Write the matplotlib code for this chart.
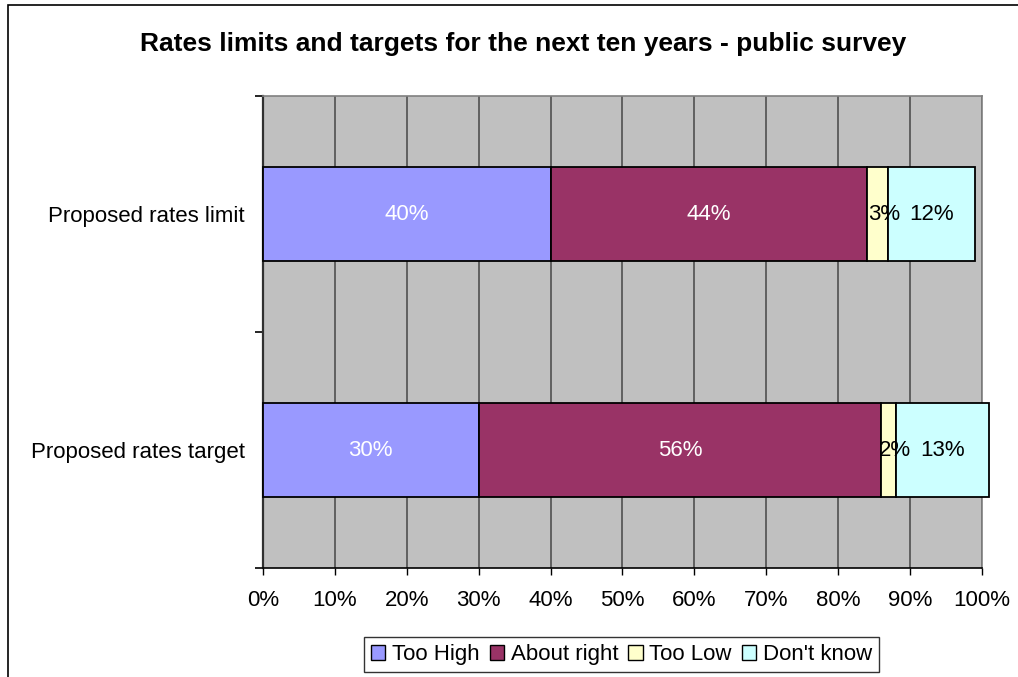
import numpy as np
import matplotlib.pyplot as plt
from matplotlib.patches import Rectangle

plt.rcParams['font.family'] = ['Liberation Sans', 'DejaVu Sans']

# survey results (percent of respondents)
questions = ["Proposed rates limit", "Proposed rates target"]
too_high = [40, 30]
about_right = [44, 56]
too_low = [3, 2]
dont_know = [12, 13]

series_names = ["Too High", "About right", "Too Low", "Don't know"]
series_colors = ["#9999FF", "#993366", "#FFFFCC", "#CCFFFF"]
label_colors = ["white", "white", "black", "black"]

fs = 16

fig = plt.figure(figsize=(10.18, 6.77), dpi=100)
ax = fig.add_axes([0.2583, 0.161, 0.7063, 0.697])
ax.set_facecolor("#C0C0C0")

y = np.arange(len(questions))
left = np.zeros(len(questions))
for vals, name, col, lcol in zip([too_high, about_right, too_low, dont_know],
                                 series_names, series_colors, label_colors):
    vals = np.array(vals, dtype=float)
    bars = ax.barh(y, vals, left=left, height=0.4, color=col,
                   edgecolor="black", linewidth=1.3, label=name, zorder=3,
                   clip_on=False)
    for b, v in zip(bars, vals):
        # narrow segments get their label nudged right a little
        dx = 5 if v < 5 else 0
        ax.annotate(f"{int(v)}%",
                    (b.get_x() + b.get_width() / 2, b.get_y() + b.get_height() / 2),
                    xytext=(dx, 0), textcoords="offset points",
                    ha="center", va="center", color=lcol, fontsize=fs,
                    zorder=4, annotation_clip=False)
    left += vals

ax.set_xlim(0, 100)
ax.set_ylim(1.5, -0.5)
ax.set_xticks(np.arange(0, 101, 10))
ax.set_xticklabels([f"{v}%" for v in range(0, 101, 10)], fontsize=fs)
ax.set_yticks(y)
ax.set_yticklabels(questions, fontsize=fs)
ax.set_yticks([-0.5, 0.5, 1.5], minor=True)
ax.tick_params(axis="y", which="major", length=0, pad=13)
ax.tick_params(axis="y", which="minor", length=6, width=1.2, color="black")
ax.tick_params(axis="x", length=5, width=1, pad=11, color="black")
ax.xaxis.grid(True, color="#505050", linewidth=1.2, zorder=1)
ax.set_axisbelow(True)

for side in ["top", "right"]:
    ax.spines[side].set_color("#808080")
    ax.spines[side].set_linewidth(1.2)
ax.spines["left"].set_color("#303030")
ax.spines["left"].set_linewidth(1.6)
ax.spines["bottom"].set_color("black")
ax.spines["bottom"].set_linewidth(1.2)

fig.text(0.514, 0.935, "Rates limits and targets for the next ten years - public survey",
         ha="center", va="center", fontsize=19, fontweight="bold")

leg = fig.legend(loc="center", bbox_to_anchor=(0.6105, 0.0332), ncol=4,
                 fontsize=fs, frameon=True, fancybox=False, edgecolor="black",
                 handlelength=0.65, handleheight=0.65, handletextpad=0.3,
                 columnspacing=0.45, borderpad=0.3, borderaxespad=0)
leg.get_frame().set_linewidth(1.0)
for h in leg.legend_handles:
    h.set_linewidth(1.0)

# outer chart border (runs off the right and bottom edges)
fig.patches.append(Rectangle((8 / 1018, -0.2), 1.2, 1.2 - 5 / 677,
                             transform=fig.transFigure, fill=False,
                             edgecolor="black", linewidth=1.2))

fig.savefig("out.png", dpi=100)
